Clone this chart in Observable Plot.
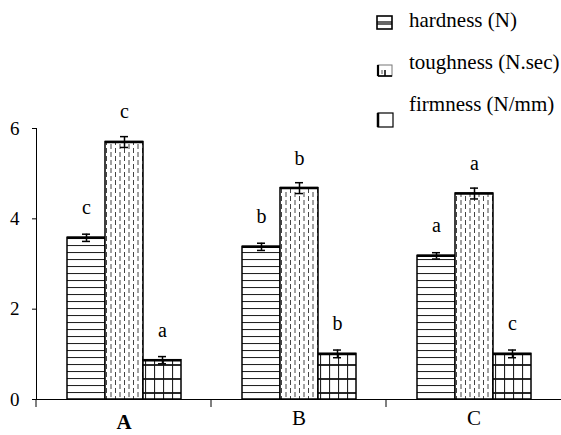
<!DOCTYPE html>
<html><head><meta charset="utf-8">
<script src="https://cdn.jsdelivr.net/npm/d3@7"></script>
<script src="https://cdn.jsdelivr.net/npm/@observablehq/plot@0.6"></script>
<style>
body{margin:0;background:#fff;font-family:'Liberation Serif',serif;}
#wrap{position:relative;width:561px;height:435px;overflow:hidden;background:#fff;font-family:'Liberation Serif',serif;}
#wrap svg text{font-family:'Liberation Serif',serif !important;}
#legend{position:absolute;left:0;top:0;}
.lt{position:absolute;left:409px;font-size:21px;line-height:21px;white-space:nowrap;color:#000;font-family:'Liberation Serif',serif;}
</style>
</head><body><div id="wrap"></div>
<script>
const groups = ["A", "B", "C"];
const series = ["hardness (N)", "toughness (N.sec)", "firmness (N/mm)"];
const hardness = [3.58, 3.38, 3.18];
const hardnessErr = [0.08, 0.08, 0.07];
const toughness = [5.70, 4.68, 4.56];
const toughnessErr = [0.12, 0.12, 0.12];
const firmness = [0.87, 1.01, 1.01];
const firmnessErr = [0.08, 0.085, 0.085];
const hardnessLetters = ["c", "b", "a"];
const toughnessLetters = ["c", "b", "a"];
const firmnessLetters = ["a", "b", "c"];
const yTicks = [0, 2, 4, 6];

const rows = [];
groups.forEach((g, i) => {
  rows.push({group: g, series: series[0], value: hardness[i], err: hardnessErr[i], letter: hardnessLetters[i]});
  rows.push({group: g, series: series[1], value: toughness[i], err: toughnessErr[i], letter: toughnessLetters[i]});
  rows.push({group: g, series: series[2], value: firmness[i], err: firmnessErr[i], letter: firmnessLetters[i]});
});

const patIds = ["pat-h", "pat-t", "pat-f"];
const font = "Liberation Serif";

const plot = Plot.plot({
  width: 561,
  height: 435,
  marginLeft: 35,
  marginRight: 0,
  marginTop: 128,
  marginBottom: 36,
  style: {fontFamily: font, fontSize: "19px", background: "transparent", color: "#000"},
  fx: {domain: groups, padding: 0, axis: null},
  x: {domain: series, paddingInner: 0, paddingOuter: 0.75, axis: null},
  y: {domain: [0, 6], ticks: yTicks, tickSize: 4, tickPadding: 13, line: true, label: null, tickFormat: d3.format("d")},
  color: {domain: series, range: patIds.map(id => `url(#${id})`)},
  marks: [
    Plot.barY(rows, {fx: "group", x: "series", y: "value", fill: "series", stroke: "#000", strokeWidth: 1.5}),
    Plot.tickY(rows, {fx: "group", x: "series", y: "value", stroke: "#000", strokeWidth: 2.5}),
    Plot.ruleX(rows, {fx: "group", x: "series", y1: d => d.value - d.err, y2: d => d.value + d.err, stroke: "#000", strokeWidth: 1.5}),
    Plot.tickY(rows, {fx: "group", x: "series", y: d => d.value - d.err, stroke: "#000", strokeWidth: 1.5, inset: 15}),
    Plot.tickY(rows, {fx: "group", x: "series", y: d => d.value + d.err, stroke: "#000", strokeWidth: 1.5, inset: 15}),
    Plot.text(rows, {fx: "group", x: "series", y: "value", text: "letter", dy: -30, fontSize: 20, fill: "#000"}),
    Plot.ruleY([0], {stroke: "#000", strokeWidth: 1}),
    Plot.text(groups.filter(g => g === "A"), {fx: d => d, text: d => d, frameAnchor: "bottom", dy: 29, fontSize: 21, fontWeight: "bold", fill: "#000"}),
    Plot.text(groups.filter(g => g !== "A"), {fx: d => d, text: d => d, frameAnchor: "bottom", dy: 25, fontSize: 21, fill: "#000"})
  ]
});

d3.select(plot).attr("font-family", font);
d3.select(plot).selectAll("text").attr("font-family", font).style("font-family", font);

// pattern definitions
const defs = d3.select(plot).insert("defs", ":first-child");
// hardness: horizontal lines
const ph = defs.append("pattern").attr("id", patIds[0]).attr("patternUnits", "userSpaceOnUse").attr("width", 8).attr("height", 7);
ph.append("rect").attr("width", 8).attr("height", 7).attr("fill", "#fff");
ph.append("line").attr("x1", 0).attr("x2", 8).attr("y1", 0.5).attr("y2", 0.5).attr("stroke", "#222").attr("stroke-width", 1.1);
// toughness: staggered vertical dashes
const pt = defs.append("pattern").attr("id", patIds[1]).attr("patternUnits", "userSpaceOnUse").attr("width", 9).attr("height", 8);
pt.append("rect").attr("width", 9).attr("height", 8).attr("fill", "#fff");
pt.append("line").attr("x1", 2).attr("x2", 2).attr("y1", 0).attr("y2", 5).attr("stroke", "#444").attr("stroke-width", 1);
pt.append("line").attr("x1", 6.5).attr("x2", 6.5).attr("y1", 4).attr("y2", 8).attr("stroke", "#444").attr("stroke-width", 1);
pt.append("line").attr("x1", 6.5).attr("x2", 6.5).attr("y1", 0).attr("y2", 1).attr("stroke", "#444").attr("stroke-width", 1);
// firmness: grid
const pf = defs.append("pattern").attr("id", patIds[2]).attr("patternUnits", "userSpaceOnUse").attr("width", 9).attr("height", 14);
pf.append("rect").attr("width", 9).attr("height", 14).attr("fill", "#fff");
pf.append("line").attr("x1", 0.5).attr("x2", 0.5).attr("y1", 0).attr("y2", 14).attr("stroke", "#222").attr("stroke-width", 1.2);
pf.append("line").attr("x1", 0).attr("x2", 9).attr("y1", 1).attr("y2", 1).attr("stroke", "#111").attr("stroke-width", 1.8);

// category boundary ticks below the axis, from the fx scale
const fxScale = plot.scale("fx");
const yScale = plot.scale("y");
const y0 = yScale.apply(0);
const tg = d3.select(plot).append("g").attr("stroke", "#000").attr("stroke-width", 1);
groups.forEach(g => {
  const x = fxScale.apply(g);
  tg.append("line").attr("x1", x).attr("x2", x).attr("y1", y0).attr("y2", y0 + 8);
});

const wrap = document.getElementById("wrap");
wrap.appendChild(plot);

// legend (top right)
const tops = [10, 52, 94];
series.forEach((s, i) => {
  const div = document.createElement("div");
  div.className = "lt";
  div.style.top = tops[i] + "px";
  div.textContent = s;
  wrap.appendChild(div);
});
const leg = d3.select(wrap).append("svg").attr("id", "legend").attr("width", 561).attr("height", 135);
const ic = leg.append("g").attr("fill", "none").attr("stroke", "#000");
ic.append("rect").attr("x", 377).attr("y", 16).attr("width", 15).attr("height", 13).attr("stroke-width", 1.6);
ic.append("line").attr("x1", 377).attr("x2", 392).attr("y1", 22).attr("y2", 22).attr("stroke-width", 1.2);
ic.append("line").attr("x1", 377).attr("x2", 392).attr("y1", 24).attr("y2", 24).attr("stroke-width", 1.2);
ic.append("rect").attr("x", 378).attr("y", 65).attr("width", 14).attr("height", 11).attr("stroke-width", 1).attr("stroke", "#777");
ic.append("line").attr("x1", 378).attr("x2", 378).attr("y1", 65).attr("y2", 76).attr("stroke-width", 2.2);
ic.append("line").attr("x1", 378).attr("x2", 392).attr("y1", 76).attr("y2", 76).attr("stroke-width", 1.6);
ic.append("line").attr("x1", 385).attr("x2", 385).attr("y1", 70).attr("y2", 76).attr("stroke-width", 1.5);
ic.append("line").attr("x1", 382).attr("x2", 382).attr("y1", 70).attr("y2", 74).attr("stroke-width", 1).attr("stroke", "#555");
ic.append("rect").attr("x", 378).attr("y", 113).attr("width", 15).attr("height", 14).attr("stroke-width", 1.2);
ic.append("line").attr("x1", 378).attr("x2", 378).attr("y1", 113).attr("y2", 127).attr("stroke-width", 2.5);
</script>
</body></html>
